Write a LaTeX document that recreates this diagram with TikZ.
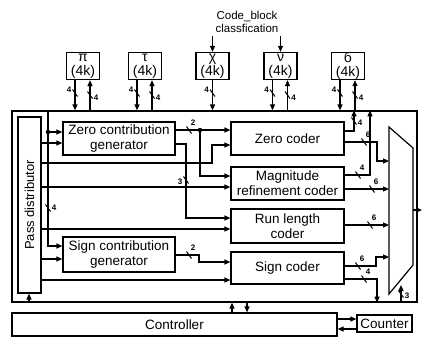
\documentclass[tikz,border=0pt]{standalone}
\usepackage{fontspec}
\setmainfont{Liberation Sans}
\usetikzlibrary{positioning,arrows.meta,calc}

\tikzset{
  blk/.style={draw, line width=1.2pt, align=center, inner sep=0pt,
    minimum width=112pt, font=\fontsize{13.5}{15}\selectfont},
  mem/.style={draw, line width=1.2pt, align=center, inner sep=0pt,
    minimum width=33pt, minimum height=27pt, font=\fontsize{14}{14}\selectfont},
  wire/.style={line width=1.2pt},
  arr/.style={wire, -{Triangle[length=6pt,width=5pt]}},
  wlab/.style={font=\fontsize{8}{8}\selectfont\bfseries, inner sep=0pt},
}
% bus width mark: position, label offset, width
\newcommand{\busw}[3]{%
  \draw[line width=1pt] ($#1+(-2.5,-3.5)$) -- ($#1+(2.5,3.5)$);
  \node[wlab] at ($#1+#2$) {#3};}

\begin{document}
\begin{tikzpicture}[x=1pt, y=-1pt]
  \useasboundingbox (0,0) rectangle (423,338);

  % state memories
  \node[font=\fontsize{11.5}{13}\selectfont, align=center] (cbc) at (247,22)
    {Code\_block\\classfication};
  \node[mem] (pi)  at (83,66)    {π\\(4k)};
  \node[mem] (tau) at (145,66)   {τ\\(4k)};
  \node[mem] (chi) at (212.5,66) {χ\\(4k)};
  \node[mem] (nu)  at (280.5,66) {ν\\(4k)};
  \node[mem] (sig) at (348,66)   {б\\(4k)};

  % core and blocks
  \node[draw, line width=1.2pt, inner sep=0pt, minimum width=405pt,
    minimum height=191pt] (core) at (214.5,206.5) {};
  \node[draw, line width=1.2pt, inner sep=0pt, minimum width=23pt,
    minimum height=176pt] (pd) at (29.5,205) {};
  \node[rotate=90, font=\fontsize{13}{13}\selectfont] (pdt) at (pd.center)
    {Pass distributor};
  \node[blk, minimum height=33pt] (zcg) at (119,138.5) {Zero contribution\\generator};
  \node[blk, minimum height=35pt] (scg) at (119,254.5) {Sign contribution\\generator};
  \node[blk, minimum width=113pt, minimum height=33pt] (zc)  at (287.5,138.5) {Zero coder};
  \node[blk, minimum width=113pt, minimum height=33pt] (mrc) at (287.5,183.5) {Magnitude\\refinement coder};
  \node[blk, minimum width=113pt, minimum height=34pt] (rlc) at (287.5,226) {Run length\\coder};
  \node[blk, minimum width=113pt, minimum height=32pt] (sc)  at (287.5,268) {Sign coder};
  \node[blk, minimum width=325pt, minimum height=23pt] (ctrl) at (174.5,324.5) {Controller};
  \node[blk, minimum width=55pt, minimum height=17pt] (cnt) at (384.5,323.5) {Counter};

  % multiplexer
  \draw[wire] (389,127) -- (413,148) -- (413,265) -- (389,294) -- cycle;
  \coordinate (mux) at (389,210);
  \coordinate (muxo) at (413,210);
  \coordinate (out) at (422,210);

  % memory ports
  \draw[arr] (chi.north |- cbc.south) -- (chi.north);
  \draw[arr] (nu.north |- cbc.south) -- (nu.north);
  \foreach \m in {pi,tau,nu,sig}{
    \coordinate (\m d) at ([xshift=-8pt]\m.south);
    \coordinate (\m u) at ([xshift=7pt]\m.south);
    \draw[arr] (\m d) -- (\m d |- core.north);
    \draw[arr] (\m u |- core.north) -- (\m u);
    \busw{(\m d |- 0,93)}{(-6,-3)}{4}
    \busw{(\m u |- 0,95)}{(6,3)}{4}
  }
  \draw[arr] (chi.south) -- (chi.south |- core.north);
  \busw{(chi.south |- 0,93)}{(-6,-3)}{4}

  % distributor outputs
  \coordinate (vb) at (48,132);
  \draw[arr] (vb |- core.north) -- (vb |- 0,246) -- (scg.west |- 0,246);
  \draw[arr] (vb) -- (zcg.west |- vb);
  \fill (vb) circle (2.2pt);
  \busw{(48,208)}{(6,0)}{4}
  \draw[arr] (pd.east |- 0,143) -- (zcg.west |- 0,143);
  \draw[arr] (pd.east |- 0,163) -- (212,163) -- (212,145) -- (zc.west |- 0,145);
  \draw[arr] (pd.east |- 0,187) -- (mrc.west |- 0,187);
  \draw[arr] (pd.east |- 0,229) -- (rlc.west |- 0,229);
  \draw[arr] (pd.east |- 0,259) -- (scg.west |- 0,259);
  \draw[arr] (pd.east |- 0,280) -- (sc.west |- 0,280);
  \draw[arr] (29,0 |- core.south) -- (29,0 |- pd.south);

  % contribution generators
  \coordinate (zj) at (200,130);
  \draw[arr] (zcg.east |- zj) -- (zc.west |- zj);
  \fill (zj) circle (2.2pt);
  \draw[arr] (zj) -- (zj |- 0,176) -- (mrc.west |- 0,176);
  \busw{(189,130)}{(4,-7)}{2}
  \draw[arr] (zcg.east |- 0,144) -- (186,144) -- (186,218) -- (rlc.west |- 0,218);
  \busw{(186,180)}{(-6,2)}{3}
  \draw[arr] (scg.east |- 0,255) -- (199,255) -- (199,262) -- (sc.west |- 0,262);
  \busw{(189,255)}{(4,-7)}{2}

  % coder outputs
  \coordinate (zu) at (354,131);
  \draw[arr] (zc.east |- zu) -- (zu) -- (zu |- core.north);
  \busw{(354,121)}{(6,2)}{4}
  \draw[arr] (zc.east |- 0,142) -- (377,142) -- (377,161) -- (mux |- 0,161);
  \busw{(364,142)}{(4,-7)}{6}
  \coordinate (mu) at (370,175);
  \draw[arr] (mrc.east |- mu) -- (mu) -- (mu |- core.north);
  \busw{(358,175)}{(4,-7)}{4}
  \draw[arr] (mrc.east |- 0,189) -- (mux |- 0,189);
  \busw{(372,189)}{(4,-7)}{6}
  \draw[arr] (rlc.east |- 0,225) -- (mux |- 0,225);
  \busw{(370,225)}{(4,-7)}{6}
  \draw[arr] (sc.east |- 0,266) -- (376,266) -- (376,257) -- (mux |- 0,257);
  \busw{(358,266)}{(4,-7)}{6}
  \draw[arr] (sc.east |- 0,279) -- (377,279) -- (377,0 |- core.south);
  \busw{(364,279)}{(4,-7)}{4}
  \draw[arr] (401,0 |- core.south) -- (401,285);
  \busw{(401,294)}{(6,2)}{3}
  \draw[arr] (muxo) -- (out);

  % controller
  \draw[arr] (232,0 |- ctrl.north) -- (232,0 |- core.south);
  \draw[arr] (247,0 |- core.south) -- (247,0 |- ctrl.north);
  \draw[arr] (ctrl.east |- 0,319) -- (cnt.west |- 0,319);
  \draw[arr] (cnt.west |- 0,329) -- (ctrl.east |- 0,329);
\end{tikzpicture}
\end{document}
